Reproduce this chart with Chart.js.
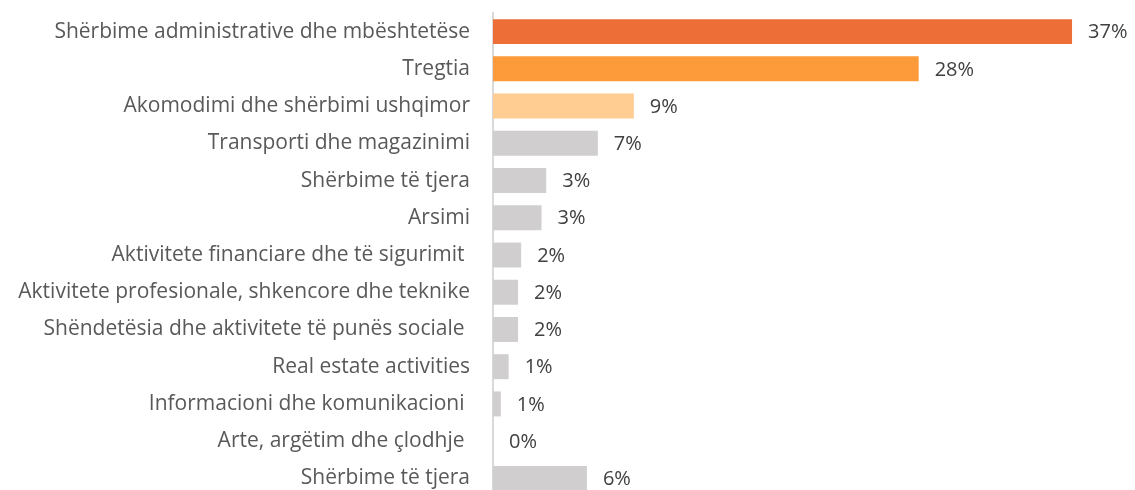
<!DOCTYPE html>
<html>
<head>
<meta charset="utf-8">
<script src="https://cdn.jsdelivr.net/npm/chart.js@4"></script>
<style>
html,body{margin:0;padding:0;background:#fff;overflow:hidden;}
#wrap{width:1135px;height:497px;position:relative;}
</style>
</head>
<body>
<div id="wrap"><canvas id="c"></canvas></div>
<script>
const categories = [
  "Shërbime administrative dhe mbështetëse",
  "Tregtia",
  "Akomodimi dhe shërbimi ushqimor",
  "Transporti dhe magazinimi",
  "Shërbime të tjera",
  "Arsimi",
  "Aktivitete financiare dhe të sigurimit ",
  "Aktivitete profesionale, shkencore dhe teknike",
  "Shëndetësia dhe aktivitete të punës sociale ",
  "Real estate activities",
  "Informacioni dhe komunikacioni ",
  "Arte, argëtim dhe çlodhje ",
  "Shërbime të tjera"
];
const values = [37.0, 27.2, 9.0, 6.7, 3.4, 3.1, 1.8, 1.6, 1.6, 1.0, 0.5, 0.0, 6.0];
const valueLabels = ["37%", "28%", "9%", "7%", "3%", "3%", "2%", "2%", "2%", "1%", "1%", "0%", "6%"];
const barColors = ["#ED6E37", "#FD9A39", "#FFCC92", "#D0CECE", "#D0CECE", "#D0CECE", "#D0CECE", "#D0CECE", "#D0CECE", "#D0CECE", "#D0CECE", "#D0CECE", "#D0CECE"];

const FONT = "'Open Sans', sans-serif";

const valueLabelPlugin = {
  id: 'valueLabels',
  afterDatasetsDraw(chart) {
    const ctx = chart.ctx;
    const meta = chart.getDatasetMeta(0);
    ctx.save();
    ctx.font = "20px " + FONT;
    ctx.fillStyle = "#404040";
    ctx.textAlign = "left";
    ctx.textBaseline = "middle";
    meta.data.forEach((bar, i) => {
      ctx.fillText(valueLabels[i], bar.x + 16, bar.y + 1);
    });
    ctx.restore();
  }
};

new Chart(document.getElementById('c'), {
  type: 'bar',
  data: {
    labels: categories,
    datasets: [{
      data: values,
      backgroundColor: barColors,
      borderWidth: 0,
      barPercentage: 0.67,
      categoryPercentage: 1.0
    }]
  },
  options: {
    indexAxis: 'y',
    responsive: true,
    maintainAspectRatio: false,
    animation: false,
    layout: { padding: { top: 13, right: 16, bottom: 0, left: 0 } },
    plugins: { legend: { display: false }, tooltip: { enabled: false } },
    scales: {
      x: {
        display: false,
        min: 0,
        max: 40
      },
      y: {
        grid: { display: true, drawOnChartArea: false, drawTicks: true, tickLength: 23, color: "rgba(0,0,0,0)" },
        border: { display: true, color: "#D9D9D9", width: 2 },
        ticks: {
          padding: 0,
          color: "#595959",
          font: { family: FONT, size: 21 },
          autoSkip: false
        },
        afterFit(scale) {
          scale.width = 493;
          scale.paddingTop = 0;
          scale.paddingBottom = 0;
        }
      }
    }
  },
  plugins: [valueLabelPlugin]
});
</script>
</body>
</html>
